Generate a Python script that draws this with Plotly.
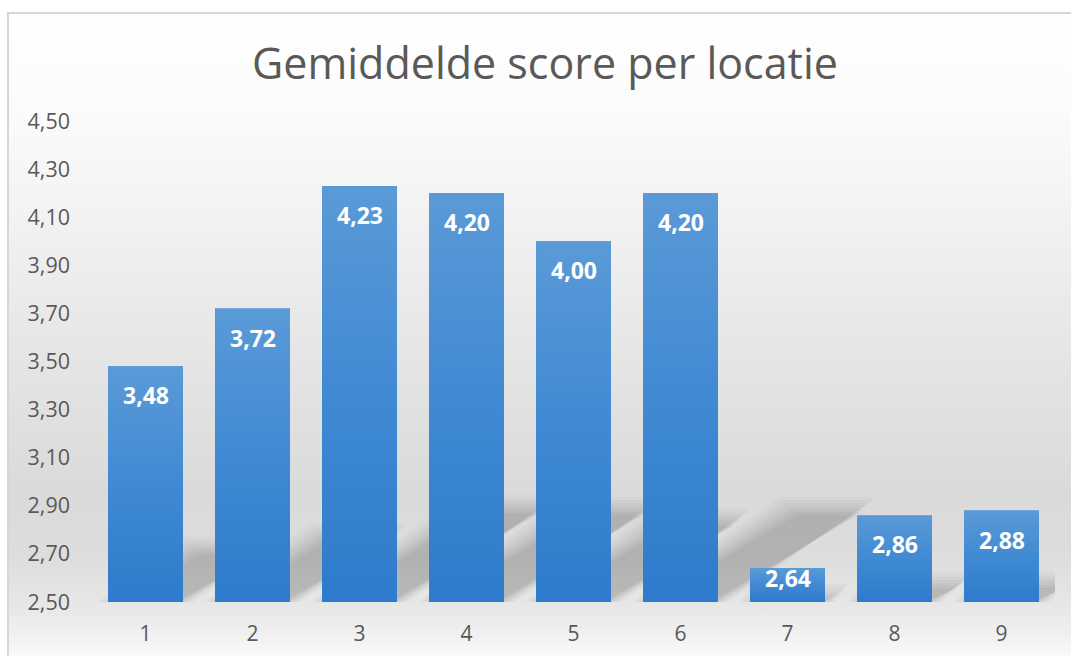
import base64
import plotly.graph_objects as go

# ---- data ----
locaties = ["1", "2", "3", "4", "5", "6", "7", "8", "9"]
scores = [3.48, 3.72, 4.23, 4.20, 4.00, 4.20, 2.64, 2.86, 2.88]
y_min, y_max, y_step = 2.50, 4.50, 0.20
title_text = "Gemiddelde score per locatie"

# ---- geometry / style ----
W, H = 1071, 656
ML, MR, MT, MB = 92, 16, 121, 54
PW, PH = W - ML - MR, H - MT - MB
BAR_W = 0.70
TEXT_GREY = "#595959"
FONT = "Open Sans"

xpos = list(range(1, len(locaties) + 1))
px_per_x = PW / len(locaties)
px_per_y = PH / (y_max - y_min)

# background (chart area gradient + border) as an svg image
stops = [(13, "#ffffff"), (110, "#fbfbfb"), (200, "#f3f3f3"), (300, "#e9e9e9"),
         (400, "#e0e0e0"), (470, "#dadada"), (530, "#dddddd"), (580, "#e8e8e8"),
         (605, "#f1f1f1"), (625, "#f9f9f9"), (656, "#ffffff")]
stop_xml = "".join(
    f'<stop offset="{(yy - 13) / (656 - 13):.4f}" stop-color="{c}"/>' for yy, c in stops)
svg = (f'<svg xmlns="http://www.w3.org/2000/svg" width="{W}" height="{H}" '
       f'viewBox="0 0 {W} {H}" preserveAspectRatio="none">'
       f'<defs><linearGradient id="g" x1="0" y1="0" x2="0" y2="1">{stop_xml}'
       f'</linearGradient></defs>'
       f'<rect x="0" y="0" width="{W}" height="{H}" fill="#ffffff"/>'
       f'<rect x="8" y="13" width="{W + 20}" height="{H + 20}" fill="url(#g)" '
       f'stroke="#d6d6d6" stroke-width="2"/></svg>')
bg_src = "data:image/svg+xml;base64," + base64.b64encode(svg.encode()).decode()

fig = go.Figure()

# base bars
fig.add_trace(go.Bar(
    x=xpos, y=scores, width=BAR_W, marker=dict(color="#4189d1", line=dict(width=0)),
    hovertemplate="Locatie %{x}: %{y:.2f}<extra></extra>", showlegend=False))

# gradient overlay on each bar
for xi, v in zip(xpos, scores):
    L, R = xi - BAR_W / 2, xi + BAR_W / 2
    fig.add_trace(go.Scatter(
        x=[L, R, R, L, L], y=[y_min, y_min, v, v, y_min], mode="lines",
        line=dict(width=0), fill="toself",
        fillgradient=dict(type="vertical",
                          colorscale=[[0, "#2e7bcc"], [0.5, "#408ad3"], [1, "#5a9ad7"]]),
        hoverinfo="skip", showlegend=False))

# soft perspective shadows (drawn below the traces)
shapes = []
blur_layers = [(18, 0.025), (15, 0.03), (12, 0.035), (9, 0.04), (6, 0.045),
               (3, 0.05), (0, 0.05)]
for xi, v in zip(xpos, scores):
    hpx = (v - y_min) * px_per_y
    sh_h = 0.23 * hpx
    sh_dx = 1.56 * sh_h
    for grow, alpha in blur_layers:
        g = grow - 7
        gx = g / px_per_x
        L = xi - BAR_W / 2 - gx
        R = xi + BAR_W / 2 + gx
        dx = sh_dx / px_per_x
        top = y_min + max(sh_h + g, 2) / px_per_y
        path = (f"M {L} {y_min} L {R} {y_min} L {R + dx} {top} "
                f"L {L + dx} {top} Z")
        shapes.append(dict(type="path", xref="x", yref="y", path=path,
                           fillcolor=f"rgba(50,50,50,{alpha})",
                           line=dict(width=0), layer="below"))

# value labels
annotations = []
for xi, v in zip(xpos, scores):
    hpx = (v - y_min) * px_per_y
    shift = -29 if hpx > 60 else -0.3 * hpx
    annotations.append(dict(
        x=xi, y=v, xref="x", yref="y", text=f"{v:.2f}".replace(".", ","),
        showarrow=False, yanchor="middle", xanchor="center", yshift=shift,
        font=dict(family=FONT, size=23, color="#ffffff", weight="bold")))

fig.update_layout(
    width=W, height=H,
    margin=dict(l=ML, r=MR, t=MT, b=MB, autoexpand=False),
    paper_bgcolor="#ffffff", plot_bgcolor="rgba(0,0,0,0)",
    separators=",.",
    title=dict(text=title_text, x=545 / W, xanchor="center", xref="container",
               y=1 - 64 / H, yanchor="middle", yref="container",
               font=dict(family=FONT, size=43, color=TEXT_GREY)),
    font=dict(family=FONT, color=TEXT_GREY),
    barmode="overlay",
    shapes=shapes,
    annotations=annotations,
    images=[dict(source=bg_src, xref="paper", yref="paper",
                 x=-ML / PW, y=1 + MT / PH, sizex=W / PW, sizey=H / PH,
                 xanchor="left", yanchor="top", sizing="stretch", layer="below")],
    xaxis=dict(range=[0.5, len(locaties) + 0.5], tickmode="array", tickvals=xpos,
               ticktext=locaties, showgrid=False, zeroline=False, showline=False,
               ticks="", ticklabelstandoff=17,
               tickfont=dict(family=FONT, size=21, color=TEXT_GREY), fixedrange=True),
    yaxis=dict(range=[y_min, y_max], tick0=y_min, dtick=y_step, tickformat=".2f",
               showgrid=False, zeroline=False, showline=False, ticks="",
               ticklabelstandoff=21,
               tickfont=dict(family=FONT, size=21.5, color=TEXT_GREY), fixedrange=True),
)

fig.write_html(
    "out.html",
    config={"displayModeBar": False},
    post_script="document.body.style.margin='0';document.body.style.overflow='hidden';",
)
